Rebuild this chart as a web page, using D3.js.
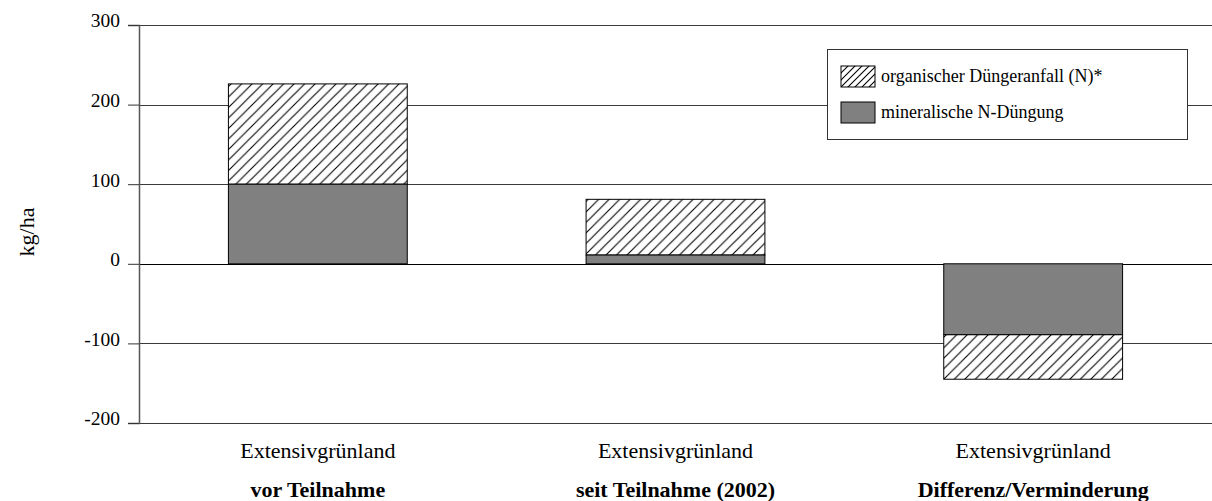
<!DOCTYPE html>
<html>
<head>
<meta charset="utf-8">
<script src="https://cdn.jsdelivr.net/npm/d3@7"></script>
<style>
  body { margin: 0; background: #fff; }
  svg { display: block; font-family: "Liberation Serif", "Times New Roman", serif; }
</style>
</head>
<body>
<svg id="chart" width="1212" height="501"></svg>
<script>
// Stickstoffdüngung je Hektar Extensivgrünland (kg N/ha)
const categoryTop = ["Extensivgrünland", "Extensivgrünland", "Extensivgrünland"];
const categoryNames = ["vor Teilnahme", "seit Teilnahme (2002)", "Differenz/Verminderung"];
const mineralN = [100, 11, -89];     // mineralische N-Düngung
const organicN = [126, 70, -56];     // organischer Düngeranfall (N)*
const yTicks = [-200, -100, 0, 100, 200, 300];
const seriesNames = ["organischer Düngeranfall (N)*", "mineralische N-Düngung"];
const yTitle = "kg/ha";

const svg = d3.select("#chart");
const margin = { left: 139, right: 0, top: 25, bottom: 423 };

const y = d3.scaleLinear().domain([-200, 300]).range([margin.bottom, margin.top]);
const x = d3.scaleBand()
  .domain(categoryNames)
  .range([margin.left, 1212])
  .paddingInner(0.5)
  .paddingOuter(0.25);

const defs = svg.append("defs");
function hatch(id, s) {
  const p = defs.append("pattern")
    .attr("id", id)
    .attr("patternUnits", "userSpaceOnUse")
    .attr("width", s).attr("height", s);
  p.append("rect").attr("width", s).attr("height", s).attr("fill", "#fff");
  p.append("path")
    .attr("d", `M${-s/4},${s/4} L${s/4},${-s/4} M0,${s} L${s},0 M${s*3/4},${s*5/4} L${s*5/4},${s*3/4}`)
    .attr("stroke", "#000").attr("stroke-width", 1.1).attr("fill", "none");
}
hatch("hatchBar", 10.5);
hatch("hatchKey", 7);

// horizontal gridlines
svg.append("g").selectAll("line")
  .data(yTicks)
  .join("line")
  .attr("x1", margin.left).attr("x2", 1212)
  .attr("y1", d => Math.round(y(d)) + 0.5).attr("y2", d => Math.round(y(d)) + 0.5)
  .attr("stroke", d => d === 0 ? "#000" : "#3a3a3a")
  .attr("stroke-width", 1);

// y axis (plain hyphen for negative values)
const yAxis = d3.axisLeft(y).tickValues(yTicks).tickSize(11).tickPadding(8).tickFormat(d => String(d));
const ga = svg.append("g").attr("transform", `translate(${margin.left},0)`).call(yAxis);
ga.select(".domain").attr("stroke", "#555").attr("stroke-width", 1.5);
ga.selectAll(".tick line").attr("stroke", "#333");
ga.selectAll(".tick text")
  .attr("font-family", "'Liberation Serif', 'Times New Roman', serif")
  .attr("font-size", 19.5).attr("fill", "#000").attr("dy", "0.1em");

// stacked bars
const stacks = categoryNames.map((c, i) => ({
  cat: c,
  mineral: [0, mineralN[i]],
  organic: [mineralN[i], mineralN[i] + organicN[i]]
}));

const bars = svg.append("g");
bars.selectAll("rect.organic")
  .data(stacks)
  .join("rect")
  .attr("class", "organic")
  .attr("x", d => x(d.cat))
  .attr("width", x.bandwidth())
  .attr("y", d => y(Math.max(...d.organic)))
  .attr("height", d => Math.abs(y(d.organic[0]) - y(d.organic[1])))
  .attr("fill", "url(#hatchBar)")
  .attr("stroke", "#000").attr("stroke-width", 1);
bars.selectAll("rect.mineral")
  .data(stacks)
  .join("rect")
  .attr("class", "mineral")
  .attr("x", d => x(d.cat))
  .attr("width", x.bandwidth())
  .attr("y", d => y(Math.max(...d.mineral)))
  .attr("height", d => Math.abs(y(d.mineral[0]) - y(d.mineral[1])))
  .attr("fill", "#808080")
  .attr("stroke", "#000").attr("stroke-width", 1);

// category labels
const labels = svg.append("g").attr("text-anchor", "middle").attr("font-size", 22);
labels.selectAll("text.top")
  .data(categoryNames)
  .join("text")
  .attr("class", "top")
  .attr("x", d => x(d) + x.bandwidth() / 2)
  .attr("y", 458)
  .text((d, i) => categoryTop[i]);
labels.selectAll("text.name")
  .data(categoryNames)
  .join("text")
  .attr("class", "name")
  .attr("x", d => x(d) + x.bandwidth() / 2)
  .attr("y", 497)
  .attr("font-weight", "bold")
  .text(d => d);

// y title
svg.append("text")
  .attr("transform", `translate(34,232) rotate(-90)`)
  .attr("text-anchor", "middle")
  .attr("font-size", 22)
  .text(yTitle);

// legend
const lg = svg.append("g").attr("transform", "translate(827,49)");
lg.append("rect").attr("x", 0.5).attr("y", 0.5).attr("width", 360).attr("height", 90)
  .attr("fill", "#fff").attr("stroke", "#333");
const keyFills = ["url(#hatchKey)", "#808080"];
const items = lg.selectAll("g.item").data(seriesNames).join("g")
  .attr("class", "item")
  .attr("transform", (d, i) => `translate(14,${17 + i * 36})`);
items.append("rect").attr("width", 34).attr("height", 21)
  .attr("fill", (d, i) => keyFills[i]).attr("stroke", "#000");
items.append("text").attr("x", 40).attr("y", 16).attr("font-size", 18).text(d => d);
</script>
</body>
</html>
